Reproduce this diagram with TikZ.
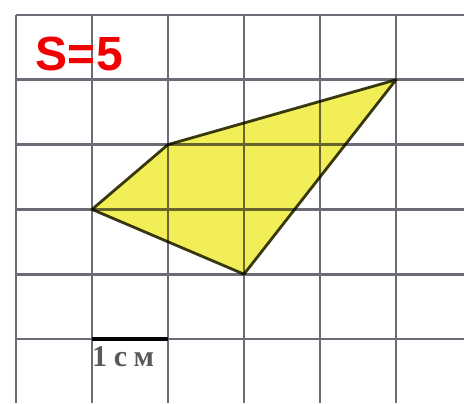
\documentclass[tikz,border=0pt]{standalone}
\usepackage{fontspec}
\setmainfont{Liberation Serif}
\newfontfamily\answerfont{Liberation Sans}
\usetikzlibrary{positioning}
\definecolor{gridline}{RGB}{108,108,118}
\definecolor{shade}{RGB}{242,238,88}
\definecolor{edge}{RGB}{58,58,20}
\definecolor{answer}{RGB}{240,0,0}

\begin{document}
\begin{tikzpicture}[x=76pt, y=-64.8pt]
  \useasboundingbox (-0.2105,-0.2315) rectangle (5.895,5.988);
  \fill[white] (-0.2105,-0.2315) rectangle (5.895,5.988);
  % squared paper
  \foreach \i in {0,...,5}
    \draw[gridline, line width=2.7pt] (\i,0) -- (\i,5.988);
  \foreach \j in {0,...,5}
    \draw[gridline, line width=2.7pt] (0,\j) -- (5.895,\j);
  % quadrilateral
  \coordinate (a) at (1,3);
  \coordinate (b) at (2,2);
  \coordinate (c) at (5,1);
  \coordinate (d) at (3,4);
  \begin{scope}[blend mode=multiply]
    \draw[edge, fill=shade, line width=2.8pt, line join=round] (a) -- (b) -- (c) -- (d) -- cycle;
  \end{scope}
  % scale bar
  \coordinate (s1) at (1,5);
  \coordinate (s2) at (2,5);
  \draw[black, line width=4pt] (s1) -- (s2);
  \node[anchor=base west, inner sep=0pt, font=\bfseries\fontsize{30}{30}\selectfont\addfontfeatures{LetterSpace=22}, text=black!65] (unit) at (1.0,5.43) {1см};
  % answer
  \node[anchor=base west, inner sep=0pt, font=\answerfont\bfseries\fontsize{48}{48}\selectfont, text=answer] (area) at (0.26,0.864) {S=5};
\end{tikzpicture}
\end{document}
